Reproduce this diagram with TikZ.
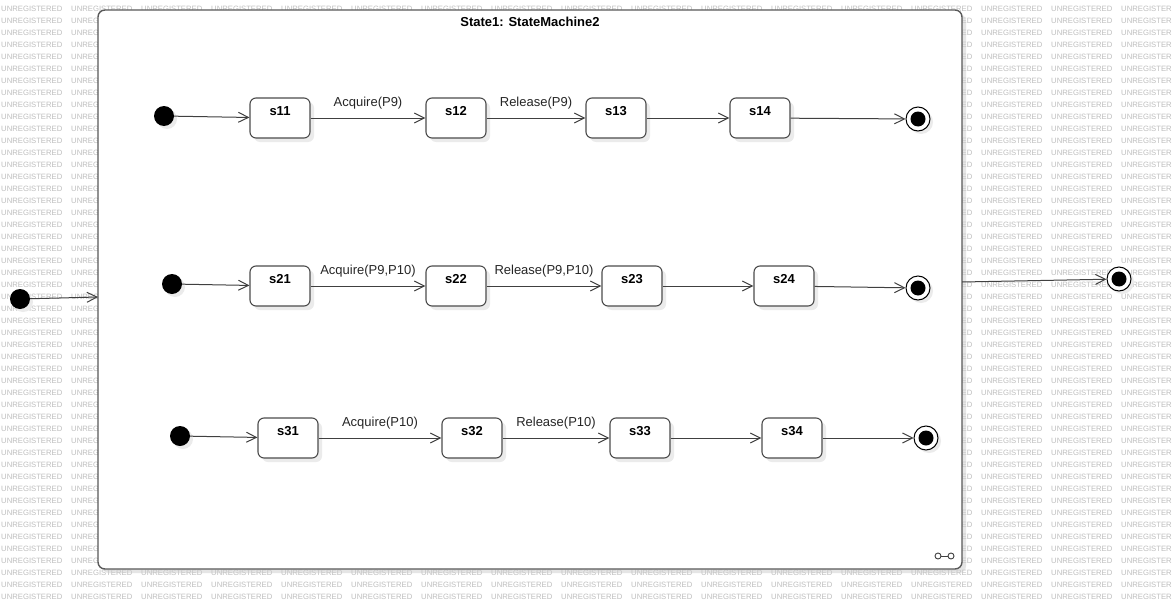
\documentclass[tikz,border=0pt]{standalone}
\usepackage{fontspec}
\setmainfont{Liberation Sans}
\usepackage{tikz}
\usetikzlibrary{arrows.meta, positioning, shadows}
\tikzset{
    wm/.style={font=\fontsize{7.7}{8}\selectfont, text=black!25, inner sep=0pt, anchor=west},
    smframe/.style={rectangle, draw=black!65, line width=1.4pt, rounded corners=7pt, fill=white, minimum width=864pt, minimum height=559pt, drop shadow={shadow xshift=4pt, shadow yshift=-4pt, fill=black!20, opacity=0.5}},
    state/.style={rectangle, draw=black!70, line width=1.1pt, rounded corners=6pt, fill=white, minimum width=60pt, minimum height=40pt, inner sep=0pt, text height=17.5pt, text depth=22.5pt, font=\fontsize{13}{15}\selectfont\bfseries, drop shadow={shadow xshift=4pt, shadow yshift=-4pt, fill=black!8, opacity=1}},
    startdot/.style={circle, fill=black, minimum size=20pt, inner sep=0pt, drop shadow={shadow xshift=3pt, shadow yshift=-3pt, fill=black!8, opacity=1}},
    enddot/.style={circle, draw=black, line width=1pt, fill=white, minimum size=24pt, inner sep=0pt, drop shadow={shadow xshift=3pt, shadow yshift=-3pt, fill=black!8, opacity=1}, path picture={\fill[black] (path picture bounding box.center) circle (7.5pt);}},
    arrow/.style={-{Straight Barb[length=10pt, width=10pt]}, draw=black!75, line width=1pt},
    trlabel/.style={font=\fontsize{13}{15}\selectfont, text=black!85},
}

\begin{document}
\begin{tikzpicture}[x=1pt, y=-1pt]
    \useasboundingbox[fill=white] (0,0) rectangle (1172,610);
    % watermark
    \begin{scope}
        \clip (0,0) rectangle (1172,610);
        \foreach \r in {0,...,49}
            \foreach \c in {0,...,16}
                \node[wm] at (70*\c+1, 9+12*\r) {UNREGISTERED};
    \end{scope}

    \node[smframe] (sm) at (530,289.5) {};
    \node[font=\fontsize{13}{15}\selectfont\bfseries, below=4.5pt of sm.north] (title) {State1: StateMachine2};

    % row 1
    \node[startdot] (i1) at (164,116) {};
    \node[state] (s11) at (280,118) {s11};
    \node[state] (s12) at (456,118) {s12};
    \node[state] (s13) at (616,118) {s13};
    \node[state] (s14) at (760,118) {s14};
    \node[enddot] (f1) at (918,119) {};
    \draw[arrow] (i1) -- (s11);
    \draw[arrow] (s11) -- node[trlabel, midway, above=4.5pt] {Acquire(P9)} (s12);
    \draw[arrow] (s12) -- node[trlabel, midway, above=4.5pt] {Release(P9)} (s13);
    \draw[arrow] (s13) -- (s14);
    \draw[arrow] (s14) -- (f1);

    % row 2
    \node[startdot] (i2) at (172,284) {};
    \node[state] (s21) at (280,286) {s21};
    \node[state] (s22) at (456,286) {s22};
    \node[state] (s23) at (632,286) {s23};
    \node[state] (s24) at (784,286) {s24};
    \node[enddot] (f2) at (918,288) {};
    \draw[arrow] (i2) -- (s21);
    \draw[arrow] (s21) -- node[trlabel, midway, above=4.5pt] {Acquire(P9,P10)} (s22);
    \draw[arrow] (s22) -- node[trlabel, midway, above=4.5pt] {Release(P9,P10)} (s23);
    \draw[arrow] (s23) -- (s24);
    \draw[arrow] (s24) -- (f2);

    % row 3
    \node[startdot] (i3) at (180,436) {};
    \node[state] (s31) at (288,438) {s31};
    \node[state] (s32) at (472,438) {s32};
    \node[state] (s33) at (640,438) {s33};
    \node[state] (s34) at (792,438) {s34};
    \node[enddot] (f3) at (926,438) {};
    \draw[arrow] (i3) -- (s31);
    \draw[arrow] (s31) -- node[trlabel, midway, above=4.5pt] {Acquire(P10)} (s32);
    \draw[arrow] (s32) -- node[trlabel, midway, above=4.5pt] {Release(P10)} (s33);
    \draw[arrow] (s33) -- (s34);
    \draw[arrow] (s34) -- (f3);

    % outside the state machine
    \node[startdot] (i0) at (20,299) {};
    \node[enddot] (f0) at (1119,279) {};
    \coordinate (entry) at (98,297);
    \coordinate (exit) at (962,282);
    \draw[arrow] (i0) -- (entry);
    \draw[arrow] (exit) -- (f0);

    % decomposition icon
    \draw[black!75, line width=0.9pt] (938,556) circle (3pt) (951,556) circle (3pt);
    \draw[black!75, line width=0.9pt] (941,556) -- (948,556);
\end{tikzpicture}
\end{document}
